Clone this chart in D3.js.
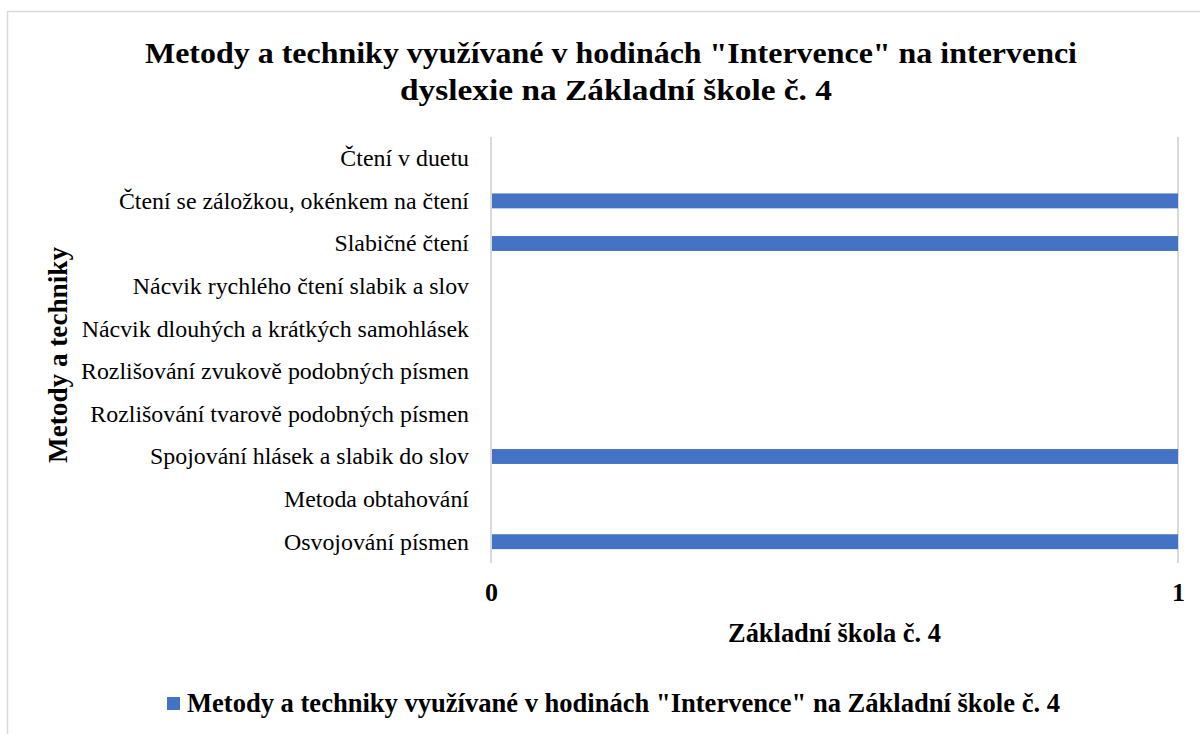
<!DOCTYPE html>
<html>
<head>
<meta charset="utf-8">
<script src="https://cdn.jsdelivr.net/npm/d3@7"></script>
<style>
  body { margin: 0; background: #fff; }
</style>
</head>
<body>
<div id="chart"></div>
<script>
// Chart data (Excel order: first category drawn at the bottom)
var categories = [
  'Osvojování písmen',
  'Metoda obtahování',
  'Spojování hlásek a slabik do slov',
  'Rozlišování tvarově podobných písmen',
  'Rozlišování zvukově podobných písmen',
  'Nácvik dlouhých a krátkých samohlásek',
  'Nácvik rychlého čtení slabik a slov',
  'Slabičné čtení',
  'Čtení se záložkou, okénkem na čtení',
  'Čtení v duetu'
]
var values = [1, 0, 1, 0, 0, 0, 0, 1, 1, 0]
var xTicks = [0, 1]

var titleLines = ['Metody a techniky využívané v hodinách "Intervence" na intervenci', 'dyslexie na Základní škole č. 4']
var xTitle = 'Základní škola č. 4'
var yTitle = 'Metody a techniky'
var seriesName = 'Metody a techniky využívané v hodinách "Intervence" na Základní škole č. 4'

var width = 1200
var height = 734
var plot = { left: 491, right: 1178, top: 137, bottom: 563 }
var barColor = '#4472c4'
var gridColor = '#d9d9d9'
var serif = '"Liberation Serif", "Times New Roman", "DejaVu Serif", serif'

// the source picture is squeezed sideways, so text is fitted to the widths seen there
function fit(sel, target) {
  sel.attr('textLength', target).attr('lengthAdjust', 'spacingAndGlyphs')
}

var svg = d3.select('#chart')
  .append('svg')
  .attr('width', width)
  .attr('height', height)
  .attr('font-family', serif)

// chart area border
svg.append('rect')
  .attr('x', 7.5)
  .attr('y', 11.5)
  .attr('width', 1200)
  .attr('height', 740)
  .attr('fill', '#fff')
  .attr('stroke', gridColor)
  .attr('stroke-width', 1.5)

var x = d3.scaleLinear().domain([0, 1]).range([plot.left, plot.right])
var y = d3.scaleBand().domain(categories).range([plot.bottom, plot.top]).paddingInner(0.65).paddingOuter(0.325)

// gridlines
svg.append('g')
  .selectAll('line')
  .data(xTicks)
  .join('line')
  .attr('x1', d => x(d))
  .attr('x2', d => x(d))
  .attr('y1', plot.top)
  .attr('y2', plot.bottom)
  .attr('stroke', gridColor)
  .attr('stroke-width', 2)

// bars
svg.append('g')
  .selectAll('rect')
  .data(categories)
  .join('rect')
  .attr('x', x(0) + 1)
  .attr('y', d => y(d))
  .attr('width', (d, i) => Math.max(0, x(values[i]) - x(0) - 1))
  .attr('height', y.bandwidth())
  .attr('fill', barColor)

// category axis
var yAxis = svg.append('g')
  .attr('transform', `translate(${plot.left},0)`)
  .call(d3.axisLeft(y).tickSize(0).tickPadding(22))
yAxis.attr('font-family', serif).attr('font-size', 23)
yAxis.select('.domain').remove()
var labels = yAxis.selectAll('text').attr('dy', '0.34em').attr('fill', '#000')
// scale all labels by one factor: longest label is about 388px wide in the picture
var ref = labels.filter(d => d === 'Rozlišování zvukově podobných písmen').node()
var k = 388 / ref.getComputedTextLength()
labels.each(function () {
  d3.select(this).call(fit, this.getComputedTextLength() * k)
})

// value axis
var xAxis = svg.append('g')
  .attr('transform', `translate(0,${plot.bottom})`)
  .call(d3.axisBottom(x).tickValues(xTicks).tickFormat(d3.format('d')).tickSize(0).tickPadding(20))
xAxis.attr('font-family', serif).attr('font-size', 26).attr('font-weight', 'bold')
xAxis.select('.domain').remove()
xAxis.selectAll('text').attr('fill', '#000')

// title
var titleWidths = [932, 432]
svg.append('g')
  .selectAll('text')
  .data(titleLines)
  .join('text')
  .text(d => d)
  .attr('x', (d, i) => i === 0 ? 611 : 616)
  .attr('y', (d, i) => 63 + i * 37)
  .attr('text-anchor', 'middle')
  .attr('font-size', 29)
  .attr('font-weight', 'bold')
  .each(function (d, i) { d3.select(this).call(fit, titleWidths[i]) })

// axis titles
svg.append('text')
  .text(xTitle)
  .attr('x', (plot.left + plot.right) / 2)
  .attr('y', 642)
  .attr('text-anchor', 'middle')
  .attr('font-size', 27)
  .attr('font-weight', 'bold')
  .call(fit, 213)

svg.append('text')
  .text(yTitle)
  .attr('transform', 'translate(67,355) rotate(-90)')
  .attr('text-anchor', 'middle')
  .attr('font-size', 27)
  .attr('font-weight', 'bold')
  .call(fit, 216)

// legend
var legend = svg.append('g').attr('transform', 'translate(167,697)')
legend.append('rect')
  .attr('width', 13)
  .attr('height', 13)
  .attr('fill', barColor)
legend.append('text')
  .text(seriesName)
  .attr('x', 20)
  .attr('y', 15)
  .attr('font-size', 27)
  .attr('font-weight', 'bold')
  .call(fit, 873)
</script>
</body>
</html>
